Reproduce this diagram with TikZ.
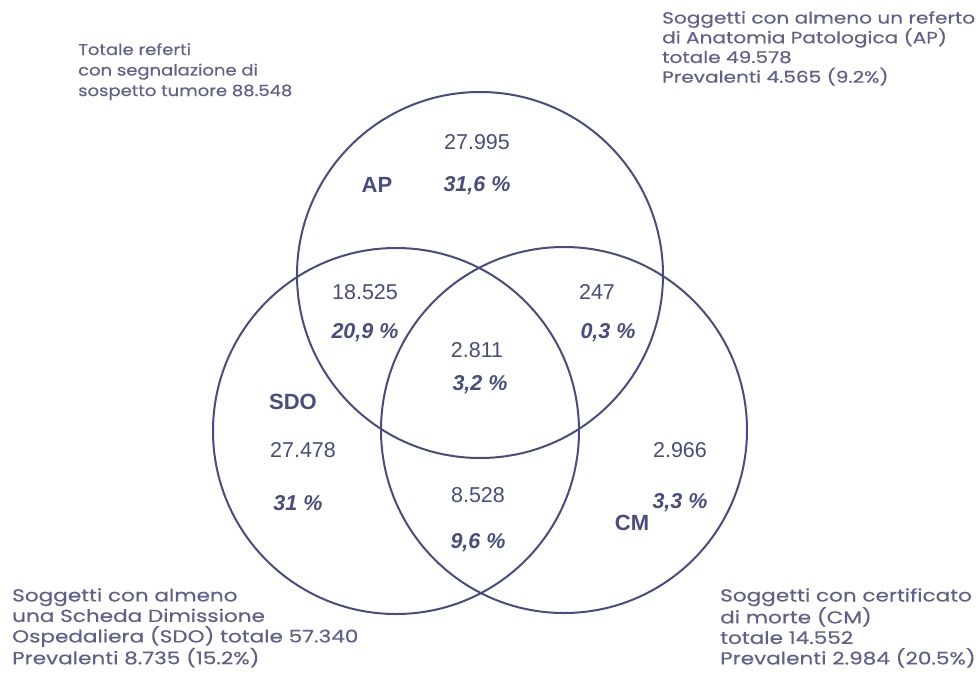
\documentclass[tikz,border=0pt]{standalone}
\usepackage{fontspec}
\setmainfont{Liberation Sans}
\newfontfamily\notefont[FakeStretch=1.16, FakeBold=0.4]{Poppins}
\newfontfamily\widenotefont[FakeStretch=1.24, FakeBold=0.4]{Poppins}
\definecolor{ink}{RGB}{72, 76, 128}
\definecolor{inkmuted}{RGB}{96, 96, 140}

\begin{document}
\begin{tikzpicture}[x=1pt, y=-1pt,
    venn/.style={circle, draw=ink, line width=2pt, minimum size=366pt, inner sep=0pt},
    count/.style={text=ink, font=\fontsize{21.5}{24}\selectfont},
    pct/.style={text=ink, font=\fontsize{21.5}{24}\selectfont\bfseries\itshape},
    setname/.style={text=ink, font=\fontsize{22}{26}\selectfont\bfseries},
    note/.style={text=inkmuted, anchor=north west, align=left, inner sep=0pt,
        font=\notefont\fontsize{15.5}{20.5}\selectfont}]
    \useasboundingbox (0,0) rectangle (978,681);
    % the three sets
    \node[venn] (ap) at (480,275) {};
    \node[venn] (sdo) at (396,431) {};
    \node[venn] (cm) at (564,430) {};
    \node[setname] (apname) at (377,185) {AP};
    \node[setname] (sdoname) at (293,402) {SDO};
    \node[setname] (cmname) at (632,523) {CM};
    % counts and shares
    \node[count] (nap) at (477,142) {27.995};
    \node[pct] (pap) at (477,186) {31,6 \%};
    \node[count] (napsdo) at (365,292) {18.525};
    \node[pct] (papsdo) at (365,333) {20,9 \%};
    \node[count] (napcm) at (597,292) {247};
    \node[pct] (papcm) at (608,333) {0,3 \%};
    \node[count] (nall) at (477,350) {2.811};
    \node[pct] (pall) at (480,385) {3,2 \%};
    \node[count] (nsdo) at (303,450) {27.478};
    \node[pct] (psdo) at (298,503) {31 \%};
    \node[count] (nsdocm) at (478,495) {8.528};
    \node[pct] (psdocm) at (478,543) {9,6 \%};
    \node[count] (ncm) at (680,450) {2.966};
    \node[pct] (pcm) at (680,503) {3,3 \%};
    % notes in the corners
    \node[note] (tot) at (78,43) {Totale referti\\con segnalazione di\\sospetto tumore 88.548};
    \node[note, font=\widenotefont\fontsize{16.2}{19.7}\selectfont] (apnote) at (662,11)
        {Soggetti con almeno un referto\\di Anatomia Patologica (AP)\\totale 49.578\\Prevalenti 4.565 (9.2\%)};
    \node[note, font=\widenotefont\fontsize{17.4}{20.5}\selectfont] (sdonote) at (12,588)
        {Soggetti con almeno\\una Scheda Dimissione\\Ospedaliera (SDO) totale 57.340\\Prevalenti 8.735 (15.2\%)};
    \node[note, font=\widenotefont\fontsize{17.4}{20.5}\selectfont] (cmnote) at (720,588)
        {Soggetti con certificato\\di morte (CM)\\totale 14.552\\Prevalenti 2.984 (20.5\%)};
\end{tikzpicture}
\end{document}
